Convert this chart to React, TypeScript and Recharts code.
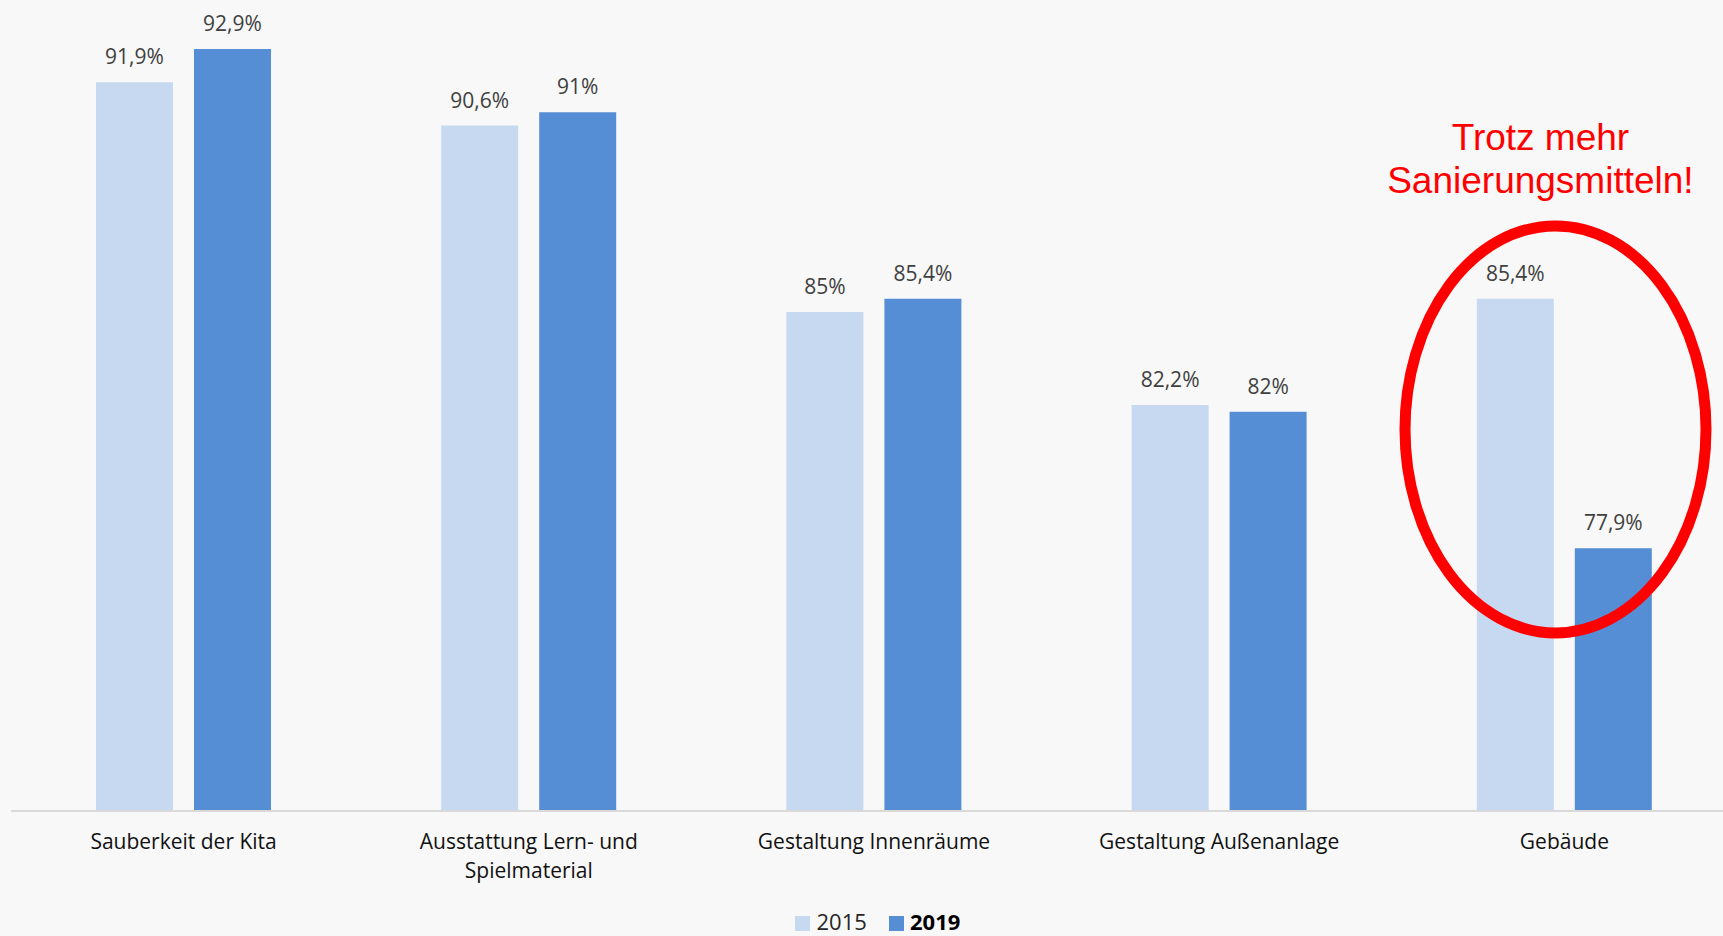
import React from "react";
import { BarChart, Bar, XAxis, YAxis, LabelList, Legend, ReferenceDot } from "recharts";

const categories = [
  "Sauberkeit der Kita",
  "Ausstattung Lern- und Spielmaterial",
  "Gestaltung Innenräume",
  "Gestaltung Außenanlage",
  "Gebäude",
];
const tickLines: string[][] = [
  ["Sauberkeit der Kita"],
  ["Ausstattung Lern- und", "Spielmaterial"],
  ["Gestaltung Innenräume"],
  ["Gestaltung Außenanlage"],
  ["Gebäude"],
];
const values2015 = [91.9, 90.6, 85, 82.2, 85.4];
const values2019 = [92.9, 91, 85.4, 82, 77.9];
const seriesNames = ["2015", "2019"];
const annotationLines = ["Trotz mehr", "Sanierungsmitteln!"];
const annotationCategory = "Gebäude";
const annotationCenterValue = 81.47;

const data = categories.map((name, i) => ({
  name,
  lines: tickLines[i],
  v2015: values2015[i],
  v2019: values2019[i],
}));

const COLOR_2015 = "#C6D9F0";
const COLOR_2019 = "#558ED5";
const FONT = "'Open Sans', sans-serif";

const fmt = (v: any) => String(v).replace(".", ",") + "%";

const CategoryTick = (props: any) => {
  const { x, y, index } = props;
  const lines = tickLines[index] || [String(props.payload?.value)];
  return (
    <g>
      {lines.map((l, i) => (
        <text
          key={i}
          x={x}
          y={y + 38 + i * 29}
          textAnchor="middle"
          fontFamily={FONT}
          fontSize={21}
          fill="#111111"
        >
          {l}
        </text>
      ))}
    </g>
  );
};

const LegendContent = () => (
  <svg width={200} height={30} style={{ overflow: "visible", display: "block" }}>
    <rect x={0} y={10} width={15} height={15} fill={COLOR_2015} />
    <text x={21.5} y={23.5} fontFamily={FONT} fontSize={22} fill="#262626">
      {seriesNames[0]}
    </text>
    <rect x={94} y={10} width={15} height={15} fill={COLOR_2019} />
    <text x={115} y={23.5} fontFamily={FONT} fontSize={22} fontWeight="bold" fill="#000000">
      {seriesNames[1]}
    </text>
  </svg>
);

const AnnotationShape = (props: any) => {
  const { cx, cy } = props;
  if (cx == null || cy == null) return <g />;
  return (
    <g>
      <ellipse
        cx={cx - 8.9}
        cy={cy}
        rx={150.5}
        ry={203.5}
        fill="none"
        stroke="#FF0000"
        strokeWidth={11}
      />
      {annotationLines.map((l, i) => (
        <text
          key={i}
          x={cx - 24}
          y={cy - 279.5 + i * 43.3}
          textAnchor="middle"
          fontFamily="'Liberation Sans', Arial, sans-serif"
          fontSize={37}
          fill="#FF0000"
        >
          {l}
        </text>
      ))}
    </g>
  );
};

export default function App() {
  return (
    <div
      style={{
        position: "absolute",
        left: 0,
        top: 0,
        width: 1723,
        height: 936,
        overflow: "hidden",
        background: "#F8F8F8",
      }}
    >
      <BarChart
        width={1737}
        height={936}
        data={data}
        margin={{ top: 12.5, right: 0, left: 11, bottom: 0 }}
        barSize={77}
        barGap={21}
      >
        <XAxis
          dataKey="name"
          axisLine={{ stroke: "#D9D9D9", strokeWidth: 2 }}
          tickLine={false}
          tickSize={0}
          tickMargin={0}
          height={95}
          interval={0}
          tick={<CategoryTick />}
        />
        <YAxis hide domain={[70, 94]} allowDataOverflow />
        <Legend
          content={<LegendContent />}
          wrapperStyle={{ position: "absolute", left: 795, top: 906, width: 200, height: 30 }}
        />
        <Bar dataKey="v2015" name={seriesNames[0]} fill={COLOR_2015} isAnimationActive={false}>
          <LabelList
            dataKey="v2015"
            position="top"
            offset={18}
            formatter={fmt}
            fill="#404040"
            fontSize={21}
            fontFamily={FONT}
          />
        </Bar>
        <Bar dataKey="v2019" name={seriesNames[1]} fill={COLOR_2019} isAnimationActive={false}>
          <LabelList
            dataKey="v2019"
            position="top"
            offset={18}
            formatter={fmt}
            fill="#404040"
            fontSize={21}
            fontFamily={FONT}
          />
        </Bar>
        <ReferenceDot
          x={annotationCategory}
          y={annotationCenterValue}
          r={1}
          ifOverflow="visible"
          shape={(p: any) => <AnnotationShape {...p} />}
        />
      </BarChart>
    </div>
  );
}
